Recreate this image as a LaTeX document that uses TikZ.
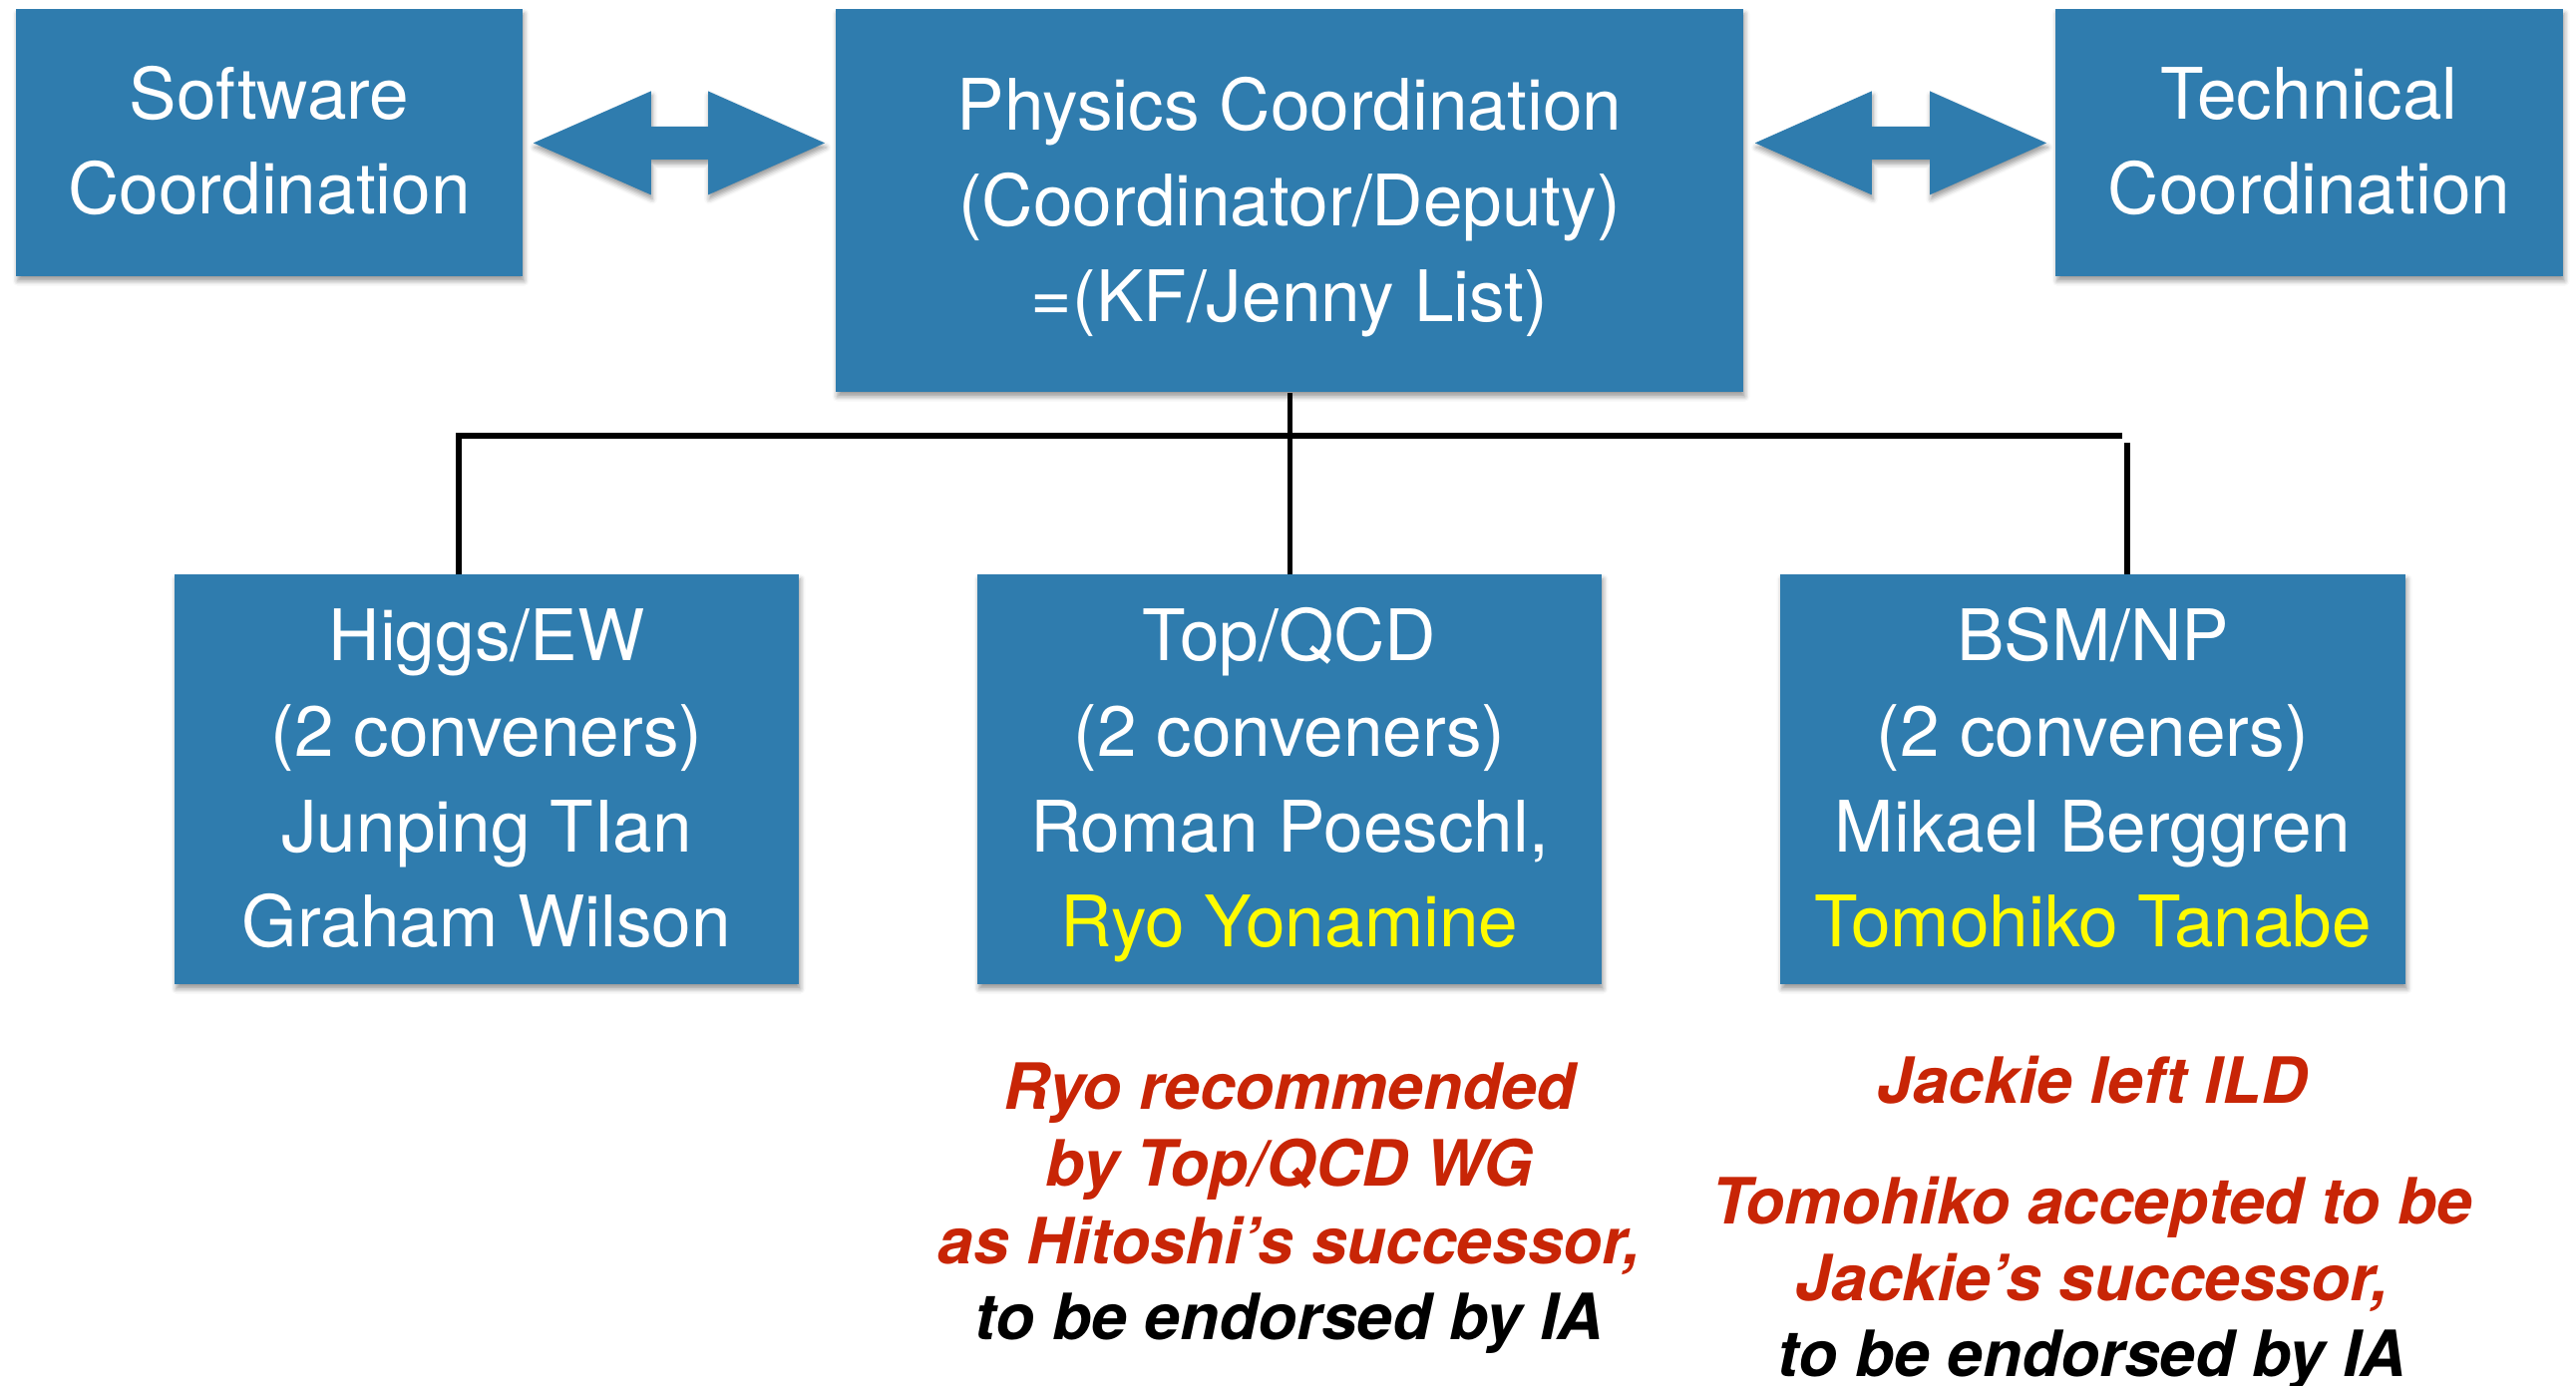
\documentclass[tikz,border=0pt]{standalone}
\usepackage{fontspec}
\setmainfont{TeX Gyre Heros}
\usetikzlibrary{calc,shadows.blur}
\definecolor{boxblue}{RGB}{47,124,174}
\definecolor{noteRed}{RGB}{200,37,6}
\definecolor{nameYellow}{RGB}{255,251,0}
\begin{document}
\begin{tikzpicture}[x=0.5pt,y=-0.5pt,
  softshadow/.style={blur shadow={shadow xshift=0.6pt, shadow yshift=-2.2pt, shadow blur radius=2.5pt, shadow opacity=40}},
  box/.style={fill=boxblue, draw=none, inner sep=0pt, anchor=north west, softshadow},
  boxtxt/.style={text=white, font=\fontsize{35.6}{47.75}\selectfont, inner sep=0pt, anchor=base},
  note/.style={text=noteRed, font=\fontsize{32}{38.5}\selectfont\bfseries\itshape, inner sep=0pt, anchor=base},
  conn/.style={line width=2.75pt, draw=black},
  darrow/.style={fill=boxblue, draw=none, softshadow}]
\useasboundingbox (0,0) rectangle (2583,1390);

% boxes
\node[box, minimum width=254pt, minimum height=134pt] (sw) at (16,9) {};
\node[box, minimum width=455pt, minimum height=192pt] (phys) at (838,9) {};
\node[box, minimum width=254.5pt, minimum height=134pt] (tech) at (2061,9) {};
\node[box, minimum width=313pt, minimum height=205.5pt] (higgs) at (175,576) {};
\node[box, minimum width=313pt, minimum height=205.5pt] (top) at (980,576) {};
\node[box, minimum width=313.5pt, minimum height=205.5pt] (bsm) at (1785,576) {};

% box texts
\node[boxtxt] (sw1) at (270,120) {Software};
\node[boxtxt] (sw2) at (270,215) {Coordination};
\node[boxtxt] (ph1) at (1293,131) {Physics Coordination};
\node[boxtxt] (ph2) at (1293,227) {(Coordinator/Deputy)};
\node[boxtxt] (ph3) at (1293,322) {=(KF/Jenny List)};
\node[boxtxt] (tc1) at (2315.5,120) {Technical};
\node[boxtxt] (tc2) at (2315.5,215) {Coordination};

\node[boxtxt] (hg1) at (488,662) {Higgs/EW};
\node[boxtxt] (hg2) at (488,758) {(2 conveners)};
\node[boxtxt] (hg3) at (488,854) {Junping TIan};
\node[boxtxt] (hg4) at (488,949) {Graham Wilson};

\node[boxtxt] (tq1) at (1293,662) {Top/QCD};
\node[boxtxt] (tq2) at (1293,758) {(2 conveners)};
\node[boxtxt] (tq3) at (1293,854) {Roman Poeschl,};
\node[boxtxt, text=nameYellow] (tq4) at (1293,949) {Ryo Yonamine};

\node[boxtxt] (bs1) at (2098.5,662) {BSM/NP};
\node[boxtxt] (bs2) at (2098.5,758) {(2 conveners)};
\node[boxtxt] (bs3) at (2098.5,854) {Mikael Berggren};
\node[boxtxt, text=nameYellow] (bs4) at (2098.5,949) {Tomohiko Tanabe};

% double arrows
\coordinate (la) at ($(sw.east)+(10,0)$);
\coordinate (lb) at ($(phys.west |- sw.east)+(-11,0)$);
\fill[darrow] (la) -- ($(la)+(118,-52)$) -- ($(la)+(118,-16.5)$) -- ($(lb)+(-117,-16.5)$)
  -- ($(lb)+(-117,-52)$) -- (lb) -- ($(lb)+(-117,52)$) -- ($(lb)+(-117,16.5)$)
  -- ($(la)+(118,16.5)$) -- ($(la)+(118,52)$) -- cycle;
\coordinate (ra) at ($(phys.east |- tech.west)+(11,0)$);
\coordinate (rb) at ($(tech.west)+(-9,0)$);
\fill[darrow] (ra) -- ($(ra)+(117,-52)$) -- ($(ra)+(117,-16.5)$) -- ($(rb)+(-117,-16.5)$)
  -- ($(rb)+(-117,-52)$) -- (rb) -- ($(rb)+(-117,52)$) -- ($(rb)+(-117,16.5)$)
  -- ($(ra)+(117,16.5)$) -- ($(ra)+(117,52)$) -- cycle;

% tree connectors
\draw[conn] (phys.south) -- (top.north);
\coordinate (hl) at (457,437);
\coordinate (hr) at (2128,437);
\draw[conn] (hl) -- (hr);
\coordinate (lv) at (460,434.5);
\draw[conn] (lv) -- (lv |- higgs.north);
\coordinate (rv) at (2133,444);
\draw[conn] (rv) -- (rv |- bsm.north);

% notes
\node[note] (n1a) at (1293,1112) {Ryo recommended};
\node[note] (n1b) at (1293,1189) {by Top/QCD WG};
\node[note] (n1c) at (1293,1267) {as Hitoshi’s successor,};
\node[note, text=black] (n1d) at (1293,1343) {to be endorsed by IA};

\node[note] (n2a) at (2098,1106) {Jackie left ILD};
\node[note] (n2b) at (2098,1227) {Tomohiko accepted to be};
\node[note] (n2c) at (2098,1304) {Jackie’s successor,};
\node[note, text=black] (n2d) at (2098,1380) {to be endorsed by IA};
\end{tikzpicture}
\end{document}
